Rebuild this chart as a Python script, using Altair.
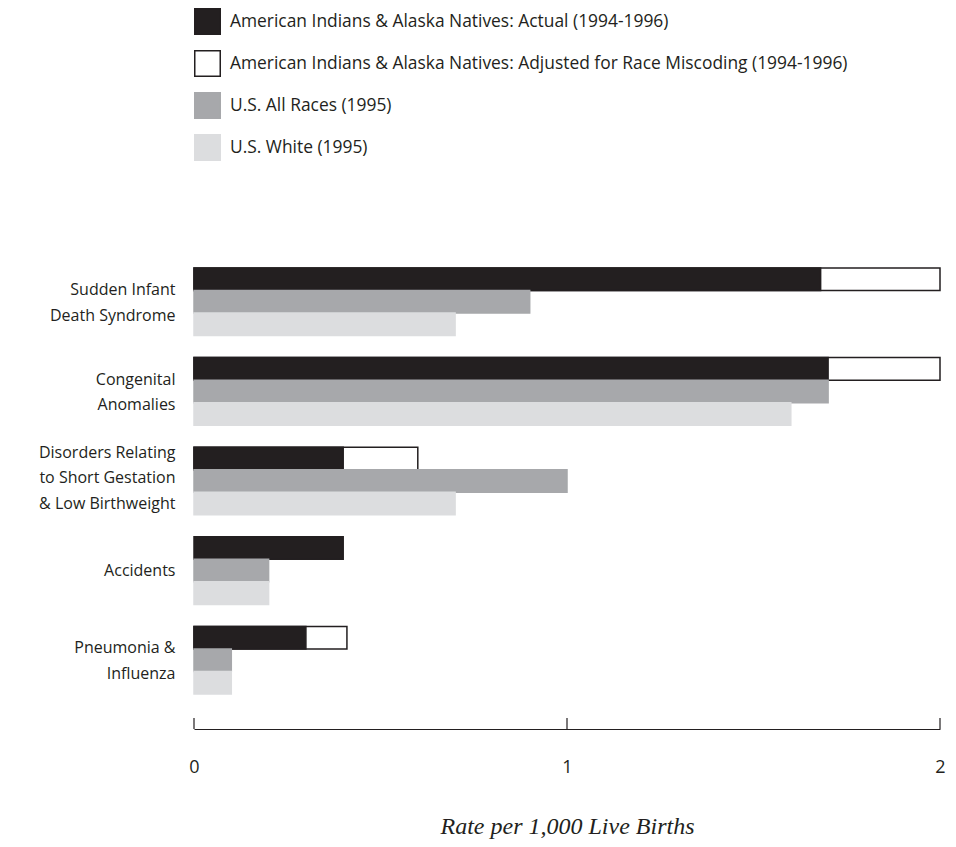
import altair as alt
import pandas as pd

categories = [
    "Sudden Infant|Death Syndrome",
    "Congenital|Anomalies",
    "Disorders Relating|to Short Gestation|& Low Birthweight",
    "Accidents",
    "Pneumonia &|Influenza",
]
actual = [1.68, 1.70, 0.40, 0.40, 0.30]
adjusted = [2.00, 2.00, 0.60, None, 0.41]
all_races = [0.90, 1.70, 1.00, 0.20, 0.10]
white = [0.70, 1.60, 0.70, 0.20, 0.10]

series_names = [
    "American Indians & Alaska Natives: Actual (1994-1996)",
    "American Indians & Alaska Natives: Adjusted for Race Miscoding (1994-1996)",
    "U.S. All Races (1995)",
    "U.S. White (1995)",
]
fills = ["#231f20", "#ffffff", "#a7a8ab", "#dcdddf"]
strokes = ["#231f20", "#231f20", "#a7a8ab", "#dcdddf"]
tick_values = [0, 1, 2]

rows = []
for i, c in enumerate(categories):
    for s, vals, r, order in [
        (series_names[1], adjusted, "a", 0),
        (series_names[0], actual, "a", 1),
        (series_names[2], all_races, "b", 2),
        (series_names[3], white, "c", 3),
    ]:
        if vals[i] is not None:
            rows.append({"cat": c, "series": s, "row": r, "value": vals[i], "order": order})
df = pd.DataFrame(rows)
ticks_df = pd.DataFrame({"t": tick_values})

W, H = 746, 448
OFF = 24
FONT = "Open Sans"
TXT = "#231f20"
LH = 25.5

xscale = alt.Scale(domain=[0, 2], nice=False, zero=True)
x_axis = alt.Axis(
    values=tick_values,
    labelExpr="format(datum.value, 'd')",
    grid=False,
    ticks=False,
    domainColor=TXT,
    domainWidth=1.2,
    offset=OFF,
    labelFont=FONT,
    labelFontSize=18,
    labelColor=TXT,
    labelPadding=29,
    labelFlush=False,
    labelOverlap=False,
    labelBound=False,
    title="Rate per 1,000 Live Births",
    titleFont="Liberation Serif",
    titleFontStyle="italic",
    titleFontWeight="normal",
    titleFontSize=24,
    titleColor=TXT,
    titleX=W / 2,
    titleY=104,
    titleAlign="center",
    titleBaseline="alphabetic",
)
yenc = alt.Y(
    "cat:N",
    sort=categories,
    scale=alt.Scale(paddingInner=0.2458, paddingOuter=0.1229),
    axis=alt.Axis(
        title=None,
        ticks=False,
        domain=False,
        labelExpr="split(datum.label, '|')",
        labelFont=FONT,
        labelFontSize=16,
        labelColor=TXT,
        labelPadding=19,
        labelLineHeight=LH,
        labelLimit=300,
        labelOffset={
            "condition": [
                {"test": "indexof(datum.value, 'Disorders') >= 0", "value": -LH - 3},
                {"test": "datum.value == 'Accidents'", "value": 0},
            ],
            "value": -LH / 2 + 1,
        },
    ),
)
color = alt.Color(
    "series:N",
    scale=alt.Scale(domain=series_names, range=fills),
    legend=alt.Legend(
        title=None,
        orient="none",
        legendX=0,
        legendY=-249,
        symbolType="square",
        symbolSize=650,
        symbolStrokeWidth=1.5,
        symbolOpacity=1,
        labelFont=FONT,
        labelFontSize=17.4,
        labelColor=TXT,
        labelOffset=9,
        labelLimit=700,
        rowPadding=9,
        padding=0,
    ),
)
stroke = alt.Stroke(
    "series:N",
    scale=alt.Scale(domain=series_names, range=strokes),
    legend=alt.Legend(title=None, orient="none", legendX=0, legendY=-249),
)

def bars(sel, axis):
    return (
        alt.Chart(df)
        .transform_filter(sel)
        .mark_bar(strokeWidth=1.5, opacity=1)
        .encode(
            x=alt.X("value:Q", scale=xscale, axis=axis),
            y=yenc,
            yOffset=alt.YOffset("row:N", scale=alt.Scale(domain=["a", "b", "c"], paddingInner=0, paddingOuter=0)),
            color=color,
            stroke=stroke,
        )
    )

back = bars("datum.order == 0", x_axis)
front = bars("datum.order > 0", x_axis)

tick_marks = (
    alt.Chart(ticks_df)
    .mark_rule(color=TXT, strokeWidth=1.2)
    .encode(
        x=alt.X("t:Q", scale=xscale, axis=x_axis),
        y=alt.value(H + OFF - 11),
        y2=alt.value(H + OFF),
    )
)

chart = (
    alt.layer(back, front, tick_marks)
    .properties(
        width=W,
        height=H,
        autosize=alt.AutoSizeParams(type="none"),
        padding={"left": 186, "top": 249, "right": 8, "bottom": 134},
    )
    .configure_view(stroke=None)
)

chart.save("out.html", embed_options={"renderer": "svg", "actions": False})
